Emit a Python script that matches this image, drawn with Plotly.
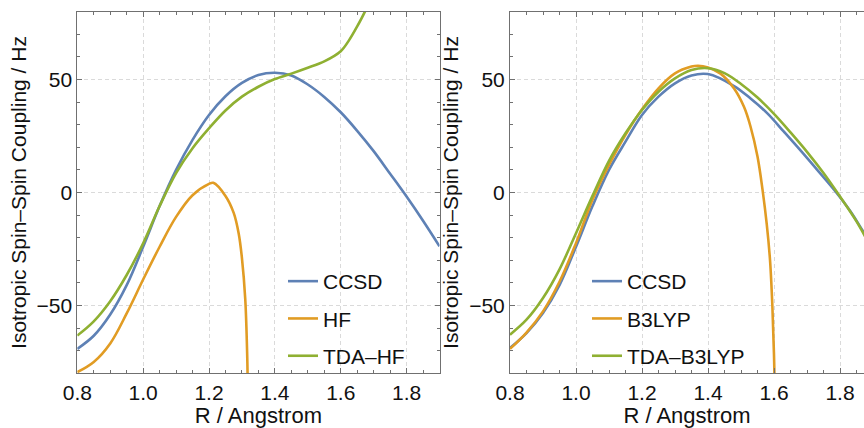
import plotly.graph_objects as go

# ---------------- data ----------------
# Left panel
R_CCSD_L = [0.80, 0.85, 0.90, 0.95, 1.00, 1.05, 1.10, 1.15, 1.20, 1.25, 1.30, 1.35, 1.40,
            1.45, 1.50, 1.55, 1.60, 1.65, 1.70, 1.75, 1.80, 1.85, 1.90]
J_CCSD_L = [-69.2, -63.4, -54.0, -41.0, -24.0, -6.0, 10.0, 23.3, 34.3, 42.6, 48.5, 52.0, 53.0,
            51.8, 47.8, 42.3, 35.5, 27.3, 18.3, 8.3, -1.8, -12.5, -23.8]

R_HF = [0.80, 0.85, 0.90, 0.95, 1.00, 1.05, 1.10, 1.15, 1.20, 1.213, 1.25, 1.275, 1.29, 1.30, 1.31, 1.316, 1.318]
J_HF = [-79.5, -75.0, -66.8, -53.5, -38.5, -24.0, -10.8, -1.2, 3.8, 4.3, -1.5, -9.0, -18.0, -29.0, -47.0, -72.0, -90.0]

R_TDAHF = [0.80, 0.85, 0.90, 0.95, 1.00, 1.05, 1.10, 1.15, 1.20, 1.25, 1.30, 1.35, 1.40, 1.45,
           1.50, 1.55, 1.60, 1.625, 1.65, 1.675, 1.70]
J_TDAHF = [-63.3, -57.0, -48.1, -36.5, -22.5, -6.0, 8.6, 19.6, 28.4, 36.3, 42.4, 46.8, 50.2, 52.6,
           55.2, 58.0, 62.5, 67.3, 73.5, 80.5, 89.0]

# Right panel
R_CCSD_R = [0.80, 0.85, 0.90, 0.95, 1.00, 1.05, 1.10, 1.15, 1.20, 1.25, 1.30, 1.35, 1.40,
            1.479, 1.529, 1.58, 1.63, 1.681, 1.731, 1.782, 1.832, 1.873, 1.90]
J_CCSD_R = [-68.8, -62.2, -53.3, -41.0, -24.0, -6.0, 10.0, 22.5, 34.3, 42.4, 48.3, 51.8, 52.4,
            47.1, 41.6, 35.0, 26.9, 18.5, 10.0, 1.2, -8.4, -17.9, -24.0]

R_B3LYP = [0.80, 0.85, 0.90, 0.95, 1.00, 1.05, 1.10, 1.15, 1.20, 1.25, 1.30, 1.35, 1.37, 1.40,
           1.438, 1.479, 1.509, 1.529, 1.55, 1.565, 1.578, 1.588, 1.595, 1.600, 1.603]
J_B3LYP = [-69.2, -62.0, -52.6, -39.5, -22.4, -3.2, 12.2, 25.5, 36.8, 46.1, 52.7, 55.7, 56.1, 55.3,
           52.6, 46.0, 37.9, 29.1, 15.9, 1.5, -14.0, -30.0, -50.0, -72.0, -95.0]

R_TDAB3LYP = [0.80, 0.85, 0.90, 0.95, 1.00, 1.05, 1.10, 1.15, 1.20, 1.25, 1.30, 1.35, 1.40,
              1.45, 1.50, 1.55, 1.60, 1.65, 1.70, 1.75, 1.80, 1.85, 1.90]
J_TDAB3LYP = [-62.9, -56.3, -46.7, -34.0, -18.0, -1.5, 14.0, 26.2, 36.5, 44.6, 50.5, 54.2, 55.0,
              52.8, 48.0, 42.0, 34.8, 26.6, 18.0, 8.6, -1.8, -12.8, -26.0]

X_TICKS = [0.8, 1.0, 1.2, 1.4, 1.6, 1.8]
Y_TICKS = [-50, 0, 50]
X_TITLE = "R / Angstrom"
Y_TITLE = "Isotropic Spin\u2013Spin Coupling / Hz"

# ---------------- style ----------------
BLUE, ORANGE, GREEN = "#5E81B5", "#E19C24", "#8FB032"
FONT = "Liberation Sans, Arial, sans-serif"
FS = 21
FS_TITLE = 22
FRAME = "#707070"
GRID = "#dadada"
TXT = "#111111"
W, H = 864, 428

fig = go.Figure()

def add(x, y, name, color, xa, ya, leg, grp):
    fig.add_trace(go.Scatter(
        x=x, y=y, name=name, mode="lines",
        line=dict(color=color, width=2.6, shape="spline", smoothing=1.0),
        xaxis=xa, yaxis=ya, legend=leg, legendgroup=grp, showlegend=True))

add(R_CCSD_L, J_CCSD_L, "CCSD", BLUE, "x", "y", "legend", "a")
add(R_HF, J_HF, "HF", ORANGE, "x", "y", "legend", "b")
add(R_TDAHF, J_TDAHF, "TDA\u2013HF", GREEN, "x", "y", "legend", "c")
add(R_CCSD_R, J_CCSD_R, "CCSD", BLUE, "x2", "y2", "legend2", "d")
add(R_B3LYP, J_B3LYP, "B3LYP", ORANGE, "x2", "y2", "legend2", "e")
add(R_TDAB3LYP, J_TDAB3LYP, "TDA\u2013B3LYP", GREEN, "x2", "y2", "legend2", "f")

ydom = [(H - 373.3) / H, (H - 11.7) / H]

def xax(domain, rng, anchor):
    return dict(
        domain=domain, range=rng, anchor=anchor,
        tickmode="array", tickvals=X_TICKS, ticktext=[f"{v:.1f}" for v in X_TICKS],
        ticks="inside", ticklen=5, tickwidth=1, tickcolor=FRAME,
        minor=dict(dtick=0.05, tick0=0.8, ticks="inside", ticklen=3, tickcolor=FRAME, showgrid=False),
        showline=True, linecolor=FRAME, linewidth=1, mirror="ticks",
        showgrid=True, gridcolor=GRID, griddash="4px,3px", gridwidth=1,
        zeroline=False, automargin=False,
        tickfont=dict(family=FONT, size=FS, color=TXT),
        title=dict(text=X_TITLE, font=dict(family=FONT, size=FS_TITLE, color=TXT), standoff=5),
    )

def yax(anchor, mirror):
    return dict(
        domain=ydom, range=[-80, 80], anchor=anchor,
        tickmode="array", tickvals=Y_TICKS,
        ticks="inside", ticklen=5, tickwidth=1, tickcolor=FRAME,
        minor=dict(dtick=10, tick0=0, ticks="inside", ticklen=3, tickcolor=FRAME, showgrid=False),
        showline=True, linecolor=FRAME, linewidth=1, mirror=mirror,
        showgrid=True, gridcolor=GRID, griddash="4px,3px", gridwidth=1,
        zeroline=False, automargin=False,
        tickfont=dict(family=FONT, size=FS, color=TXT),
        title=dict(text=Y_TITLE, font=dict(family=FONT, size=FS, color=TXT), standoff=4),
    )

legend_common = dict(
    bgcolor="rgba(0,0,0,0)", borderwidth=0, itemwidth=30,
    font=dict(family=FONT, size=FS, color=TXT),
    tracegroupgap=7, traceorder="grouped", xanchor="left", yanchor="top",
    itemclick=False, itemdoubleclick=False,
)

fig.update_layout(
    width=W, height=H, margin=dict(l=0, r=0, t=0, b=0),
    paper_bgcolor="white", plot_bgcolor="white",
    font=dict(family=FONT, size=FS, color=TXT),
    xaxis=xax([77.3 / W, 439.5 / W], [0.8, 1.9], "y"),
    yaxis=yax("x", "ticks"),
    xaxis2=xax([510.0 / W, 1.0], [0.8, 0.8 + 354.0 / 330.0], "y2"),
    yaxis2=yax("x2", False),
    legend=dict(x=283 / W, y=1 - 261 / H, **legend_common),
    legend2=dict(x=587 / W, y=1 - 261 / H, **legend_common),
)

fig.write_html("out.html")
